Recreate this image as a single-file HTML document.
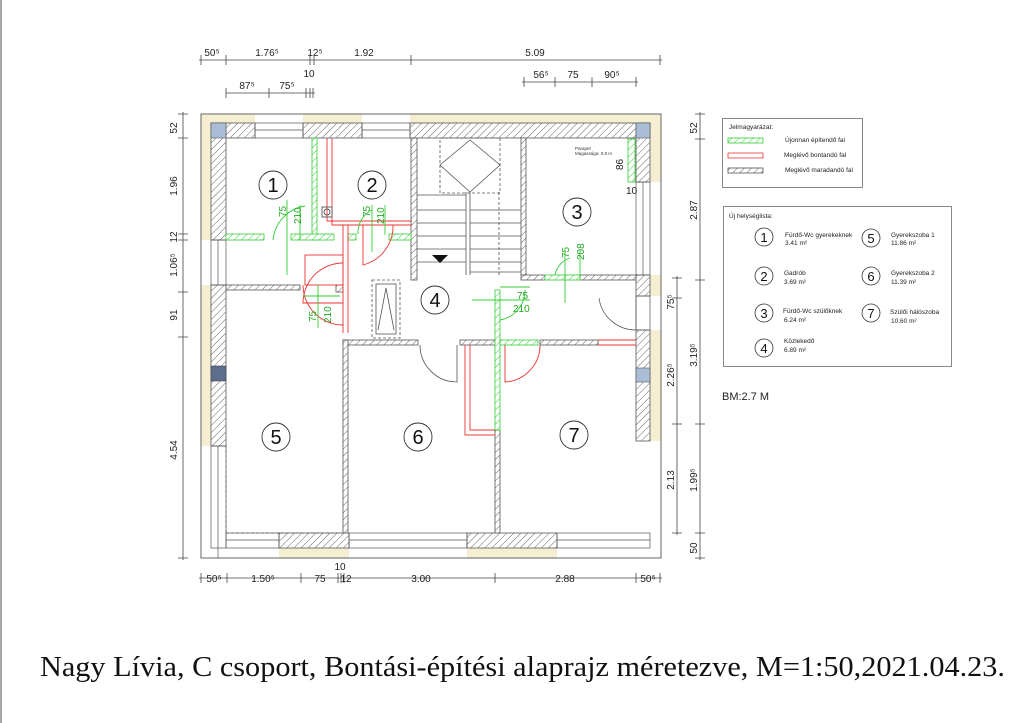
<!DOCTYPE html>
<html><head><meta charset="utf-8"><style>
html,body{margin:0;padding:0;background:#fff;width:1024px;height:723px;overflow:hidden}
svg{display:block}
text{font-family:"Liberation Sans",sans-serif}
</style></head><body>
<svg width="1024" height="723" viewBox="0 0 1024 723" xmlns="http://www.w3.org/2000/svg">
<defs>
<pattern id="h" width="5" height="5" patternUnits="userSpaceOnUse" patternTransform="rotate(45)">
<rect width="5" height="5" fill="#fff"/><line x1="0" y1="0" x2="0" y2="5" stroke="#666" stroke-width="1"/></pattern>
<pattern id="g" width="5" height="5" patternUnits="userSpaceOnUse" patternTransform="rotate(45)">
<rect width="5" height="5" fill="#fff"/><line x1="0" y1="0" x2="0" y2="5" stroke="#3c3" stroke-width="1"/></pattern>
</defs>
<line x1="1" y1="0" x2="1" y2="723" stroke="#888" stroke-width="1.5"/>

<g fill="#f6eed3">
<rect x="201" y="114" width="54" height="9"/><rect x="303" y="114" width="59" height="9"/><rect x="410" y="114" width="251" height="9"/>
<rect x="201" y="114" width="10" height="126"/><rect x="201" y="285" width="10" height="161"/>
<rect x="650" y="114" width="11" height="68"/><rect x="650" y="275" width="11" height="21"/><rect x="650" y="330" width="11" height="111"/>
<rect x="279" y="548" width="70" height="10"/><rect x="467" y="548" width="90" height="10"/>
</g>
<rect x="201" y="114" width="460" height="444" fill="none" stroke="#666" stroke-width="1"/>

<g fill="url(#h)" stroke="#555" stroke-width="0.8">
<rect x="211" y="123" width="44" height="15"/><rect x="303" y="123" width="59" height="15"/><rect x="410" y="123" width="240" height="15"/>
<rect x="211" y="123" width="15" height="117"/><rect x="211" y="285" width="15" height="161"/>
<rect x="636" y="123" width="14" height="59"/><rect x="636" y="275" width="14" height="21"/><rect x="636" y="330" width="14" height="111"/>
<rect x="279" y="533" width="70" height="15"/><rect x="467" y="533" width="90" height="15"/>
</g>
<g fill="none" stroke="#555" stroke-width="0.7">
<rect x="255" y="123" width="48" height="15"/><line x1="255" y1="130" x2="303" y2="130"/>
<rect x="362" y="123" width="48" height="15"/><line x1="362" y1="130" x2="410" y2="130"/>
<rect x="211" y="240" width="15" height="45"/><line x1="218" y1="240" x2="218" y2="285"/>
<rect x="211" y="446" width="15" height="102"/><line x1="218" y1="446" x2="218" y2="558"/>
<rect x="636" y="182" width="14" height="93"/><line x1="643" y1="182" x2="643" y2="275"/>
<rect x="636" y="296" width="14" height="34"/>
<rect x="226" y="533" width="53" height="15"/><line x1="226" y1="540" x2="279" y2="540"/>
<rect x="349" y="533" width="118" height="15"/><line x1="349" y1="540" x2="467" y2="540"/>
<rect x="557" y="533" width="93" height="15"/><line x1="557" y1="540" x2="650" y2="540"/>
<line x1="226" y1="533" x2="226" y2="446" stroke-dasharray="3 2"/>
<line x1="226" y1="533" x2="343" y2="533" stroke-dasharray="3 2"/>
</g>
<rect x="211" y="123" width="15" height="15" fill="#a9bdd6" stroke="#555" stroke-width="0.6"/>
<rect x="636" y="123" width="14" height="15" fill="#a9bdd6" stroke="#555" stroke-width="0.6"/>
<rect x="211" y="366" width="15" height="15" fill="#5d6e8c" stroke="#444" stroke-width="0.6"/>
<rect x="636" y="368" width="14" height="14" fill="#a9bdd6" stroke="#555" stroke-width="0.6"/>

<g fill="url(#h)" stroke="#555" stroke-width="0.8">
<rect x="411" y="138" width="6" height="142"/>
<rect x="521" y="138" width="5" height="137"/>
<rect x="521" y="275" width="24" height="5"/><rect x="580" y="275" width="56" height="5"/>
<rect x="226" y="285" width="74" height="5"/>
<rect x="343" y="340" width="75" height="5"/><rect x="460" y="340" width="35" height="5"/><rect x="540" y="340" width="58" height="5"/>
<rect x="343" y="340" width="5" height="193"/>
<rect x="495" y="430" width="5" height="103"/>
<rect x="336" y="285" width="7" height="7"/>
</g>
<g fill="url(#g)" stroke="#3c3" stroke-width="0.8">
<rect x="312" y="138" width="5" height="102"/>
<rect x="226" y="234" width="38" height="6"/><rect x="291" y="234" width="43" height="6"/><rect x="348" y="234" width="8" height="6"/><rect x="389" y="234" width="22" height="6"/>
<rect x="495" y="290" width="5" height="140"/>
<rect x="500" y="340" width="38" height="5"/>
<rect x="545" y="275" width="35" height="5"/>
<rect x="628" y="139" width="7" height="43"/>
</g>
<g fill="none" stroke="#e33" stroke-width="0.9">
<polyline points="327,138 327,221 412,221"/><polyline points="332,138 332,225 412,225"/>
<line x1="343" y1="225" x2="343" y2="333"/><line x1="348" y1="225" x2="348" y2="333"/>
<rect x="305" y="255" width="38" height="30"/>
<polyline points="465,345 465,435 495,435"/><polyline points="470,345 470,430 495,430"/>
<line x1="598" y1="340" x2="636" y2="340"/><line x1="598" y1="345" x2="636" y2="345"/>
<path d="M343,263 A40,40 0 0 0 303,303 L343,303"/>
<path d="M363,225 L363,265 A40,40 0 0 0 393,225"/>
<path d="M303,285 A40,40 0 0 0 343,325"/>
<path d="M505,345 L505,382 A37,37 0 0 0 540,345"/>
<rect x="322" y="207" width="10" height="10" stroke="#555"/><circle cx="327" cy="212" r="3" stroke="#555"/>
</g>
<g fill="none" stroke="#3c3" stroke-width="0.9">
<path d="M273,240 A38,38 0 0 1 305,206"/><line x1="287" y1="200" x2="287" y2="275"/><line x1="300" y1="205" x2="300" y2="240"/>
<path d="M358,234 A25,25 0 0 1 372,210"/><line x1="372" y1="205" x2="372" y2="252"/><line x1="385" y1="205" x2="385" y2="235"/>
<path d="M555,275 A22,22 0 0 1 570,258"/><line x1="565" y1="250" x2="565" y2="303"/><line x1="580" y1="250" x2="580" y2="275"/>
<line x1="472" y1="300" x2="530" y2="300"/><line x1="500" y1="287" x2="530" y2="287"/>
<path d="M500,320 A30,30 0 0 0 525,290"/>
<line x1="318" y1="285" x2="318" y2="328"/><line x1="303" y1="296" x2="340" y2="296"/>
</g>
<g fill="none" stroke="#555" stroke-width="0.8">
<path d="M420,345 A37,37 0 0 0 457,382 L457,345"/>
<path d="M636,296 L636,330 M599,298 A37,37 0 0 0 636,330"/>
</g>
<g fill="none" stroke="#555" stroke-width="0.8">
<rect x="440" y="138" width="60" height="55" stroke-dasharray="3 2"/>
<polygon points="470,140 500,165 470,192 440,165"/>
<line x1="466" y1="192" x2="466" y2="275"/><line x1="470" y1="192" x2="470" y2="275"/>
<line x1="417" y1="195" x2="466" y2="195"/><line x1="417" y1="210" x2="466" y2="210"/><line x1="417" y1="223" x2="466" y2="223"/>
<line x1="417" y1="236" x2="466" y2="236"/><line x1="417" y1="249" x2="466" y2="249"/><line x1="417" y1="262" x2="466" y2="262"/>
<line x1="470" y1="210" x2="521" y2="210"/><line x1="470" y1="223" x2="521" y2="223"/><line x1="470" y1="236" x2="521" y2="236"/>
<line x1="470" y1="249" x2="521" y2="249"/><line x1="470" y1="262" x2="521" y2="262"/><line x1="470" y1="272" x2="521" y2="272"/>
<line x1="499" y1="192" x2="499" y2="275" stroke-dasharray="3 2"/>
<rect x="372" y="280" width="28" height="58" stroke-dasharray="3 2"/><rect x="376" y="284" width="20" height="50"/>
<polyline points="378,330 386,288 394,330"/>
</g>
<polygon points="432,255 448,255 440,263" fill="#111"/>

<g fill="#fff" stroke="#333" stroke-width="0.9">
<circle cx="273" cy="185" r="14"/><circle cx="372" cy="185" r="14"/><circle cx="577" cy="212" r="14"/>
<circle cx="435" cy="300" r="14"/><circle cx="276" cy="437" r="14"/><circle cx="418" cy="437" r="14"/><circle cx="574" cy="435" r="14"/>
</g>
<g font-size="20" text-anchor="middle" fill="#111" style="font-family:'Liberation Serif',serif">
<text x="273" y="192">1</text><text x="372" y="192">2</text><text x="577" y="219">3</text><text x="435" y="307">4</text>
<text x="276" y="444">5</text><text x="418" y="444">6</text><text x="574" y="442">7</text>
</g>
<g fill="#2a2" font-size="10">
<text transform="translate(286,217) rotate(-90)">75</text><text transform="translate(301,224) rotate(-90)">210</text>
<text transform="translate(370,217) rotate(-90)">75</text><text transform="translate(384,224) rotate(-90)">210</text>
<text transform="translate(569,258) rotate(-90)">75</text><text transform="translate(584,260) rotate(-90)">208</text>
<text transform="translate(316,322) rotate(-90)">75</text><text transform="translate(331,323) rotate(-90)">210</text>
<text x="517" y="299">75</text><text x="513" y="312">210</text>
</g>
<text x="575" y="150" font-size="4.5" fill="#333">Parapet</text><text x="575" y="155" font-size="4.5" fill="#333">Magassága: 0.8 m</text>
<text transform="translate(623,170) rotate(-90)" font-size="10" fill="#222">86</text>
<text x="626" y="194" font-size="10" fill="#222">10</text>

<g stroke="#444" stroke-width="0.8" fill="none">
<line x1="199" y1="60" x2="662" y2="60"/>
<line x1="226" y1="93" x2="315" y2="93"/>
<line x1="522" y1="82" x2="638" y2="82"/>
<line x1="183" y1="112" x2="183" y2="560"/>
<line x1="700" y1="112" x2="700" y2="560"/>
<line x1="677" y1="276" x2="677" y2="535"/>
<line x1="199" y1="578" x2="662" y2="578"/>
</g>
<g stroke="#444" stroke-width="0.8">
<path d="M201,55v10M226,55v10M310,55v10M314,55v10M411,55v10M660,55v10"/>
<path d="M226,88v10M269,88v10M306,88v10M310,88v10M313,88v10"/>
<path d="M524,77v10M555,77v10M592,77v10M636,77v10"/>
<path d="M178,114h10M178,138h10M178,234h10M178,240h10M178,292h10M178,337h10M178,558h10"/>
<path d="M695,114h10M695,139h10M695,280h10M695,424h10M695,533h10M695,558h10"/>
<path d="M672,278h10M672,298h10M672,424h10M672,533h10"/>
<path d="M201,573v10M227,573v10M301,573v10M338,573v10M341,573v10M344,573v10M495,573v10M636,573v10M660,573v10"/>
</g>
<g font-size="10" fill="#222" text-anchor="middle">
<text x="212" y="56">50⁵</text><text x="267" y="56">1.76⁵</text><text x="315" y="56">12⁵</text><text x="364" y="56">1.92</text><text x="535" y="56">5.09</text>
<text x="309" y="77">10</text>
<text x="247" y="89">87⁵</text><text x="287" y="89">75⁵</text>
<text x="541" y="78">56⁵</text><text x="573" y="78">75</text><text x="612" y="78">90⁵</text>
<text transform="translate(177,128) rotate(-90)">52</text>
<text transform="translate(177,186) rotate(-90)">1.96</text>
<text transform="translate(177,237) rotate(-90)">12</text>
<text transform="translate(177,265) rotate(-90)">1.06⁵</text>
<text transform="translate(177,315) rotate(-90)">91</text>
<text transform="translate(177,450) rotate(-90)">4.54</text>
<text transform="translate(697,128) rotate(-90)">52</text>
<text transform="translate(697,210) rotate(-90)">2.87</text>
<text transform="translate(697,355) rotate(-90)">3.19⁵</text>
<text transform="translate(697,480) rotate(-90)">1.99⁵</text>
<text transform="translate(697,548) rotate(-90)">50</text>
<text transform="translate(674,302) rotate(-90)">75⁵</text>
<text transform="translate(674,375) rotate(-90)">2.26⁵</text>
<text transform="translate(674,480) rotate(-90)">2.13</text>
<text x="214" y="582">50⁵</text><text x="263" y="582">1.50⁵</text><text x="320" y="582">75</text><text x="346" y="582">12</text>
<text x="421" y="582">3.00</text><text x="565" y="582">2.88</text><text x="648" y="582">50⁵</text>
<text x="340" y="570">10</text>
</g>

<rect x="722.5" y="118.5" width="140" height="69" fill="#fff" stroke="#888"/>
<g font-size="6.5" fill="#222">
<text x="729" y="129">Jelmagyarázat:</text>
<text x="785" y="142">Újonnan építendő fal</text>
<text x="784" y="157">Meglévő bontandó fal</text>
<text x="785" y="172">Meglévő maradandó fal</text>
</g>
<rect x="728" y="138" width="35" height="5" fill="url(#g)" stroke="#3c3" stroke-width="0.8"/>
<rect x="728" y="153" width="35" height="5" fill="#fff" stroke="#e33" stroke-width="0.8"/>
<rect x="728" y="168" width="35" height="5" fill="url(#h)" stroke="#555" stroke-width="0.8"/>

<rect x="723.5" y="206.5" width="228" height="160" fill="#fff" stroke="#888"/>
<text x="729" y="218" font-size="6.5" fill="#222">Új helységlista:</text>
<g fill="#fff" stroke="#333" stroke-width="0.8">
<circle cx="764" cy="237" r="9"/><circle cx="764" cy="276" r="9"/><circle cx="764" cy="313" r="9"/><circle cx="764" cy="348" r="9"/>
<circle cx="871" cy="238" r="9"/><circle cx="871" cy="276" r="9"/><circle cx="871" cy="313" r="9"/>
</g>
<g font-size="13" text-anchor="middle" fill="#111" style="font-family:'Liberation Serif',serif">
<text x="764" y="242">1</text><text x="764" y="281">2</text><text x="764" y="318">3</text><text x="764" y="353">4</text>
<text x="871" y="243">5</text><text x="871" y="281">6</text><text x="871" y="318">7</text>
</g>
<g font-size="6.5" fill="#222">
<text x="785" y="237">Fürdő-Wc gyerekeknek</text><text x="785" y="245">3.41 m²</text>
<text x="784" y="275">Gadrób</text><text x="784" y="284">3.69 m²</text>
<text x="783" y="313">Fürdő-Wc szülőknek</text><text x="784" y="322">6.24 m²</text>
<text x="784" y="343">Közlekedő</text><text x="784" y="352">6.89 m²</text>
<text x="891" y="237">Gyerekszoba 1</text><text x="891" y="245">11.86 m²</text>
<text x="891" y="275">Gyerekszoba 2</text><text x="891" y="284">11.39 m²</text>
<text x="890" y="314">Szülői hálószoba</text><text x="891" y="323">10.60 m²</text>
</g>
<text x="722" y="400" font-size="11" fill="#222">BM:2.7 M</text>

<text x="40" y="676" font-size="29" fill="#111" textLength="965" lengthAdjust="spacingAndGlyphs" style="font-family:'Liberation Serif',serif">Nagy Lívia, C csoport, Bontási-építési alaprajz méretezve, M=1:50,2021.04.23.</text>
</svg>
</body></html>
